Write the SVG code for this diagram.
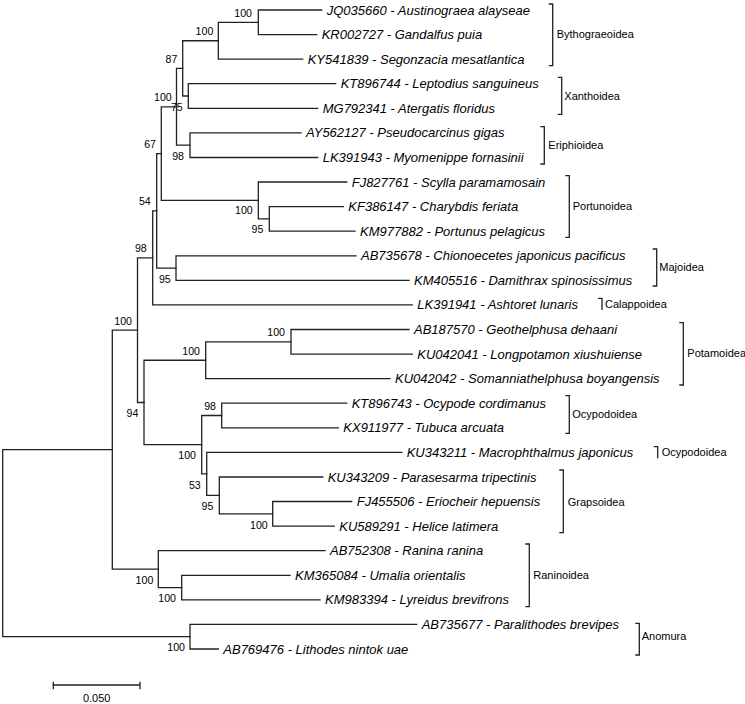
<svg xmlns="http://www.w3.org/2000/svg" width="745" height="704" viewBox="0 0 745 704">
<style>
.br{fill:none;stroke:#222;stroke-width:1.3;stroke-linecap:square}
.tx{font-family:"Liberation Sans",Arial,sans-serif;font-size:13px;font-style:italic;fill:#000}
.bs{font-family:"Liberation Sans",Arial,sans-serif;font-size:10.6px;fill:#000;text-anchor:end}
.cl{font-family:"Liberation Sans",Arial,sans-serif;font-size:11px;fill:#000}
.bk{fill:none;stroke:#222;stroke-width:1.3}
</style>
<rect width="745" height="704" fill="#fff"/>
<g id="connectors">
<path class="br" d="M321.7,10 H258.3 V34.6 H316.7"/>
<path class="br" d="M258.3,22.3 H218.3 V59.2 H302.7"/>
<path class="br" d="M335.7,83.7 H188.3 V108.3 H317.7"/>
<path class="br" d="M218.3,40.75 H182.7 V96 H188.3"/>
<path class="br" d="M301,132.9 H190 V157.5 H317.7"/>
<path class="br" d="M182.7,68.4 H176.5 V145.2 H190"/>
<path class="br" d="M343.3,206.6 H269.3 V231.2 H355"/>
<path class="br" d="M346.7,182 H258.3 V218.9 H269.3"/>
<path class="br" d="M176.5,106.8 H161.3 V200.45 H258.3"/>
<path class="br" d="M356,255.8 H176 V280.3 H409"/>
<path class="br" d="M161.3,153.6 H156.7 V268.05 H176"/>
<path class="br" d="M156.7,210.8 H152.7 V304.9 H412.3"/>
<path class="br" d="M409,329.5 H291 V354.1 H412.3"/>
<path class="br" d="M291,341.8 H205.7 V378.7 H390"/>
<path class="br" d="M346.7,403.2 H221.7 V427.8 H338.3"/>
<path class="br" d="M351.7,501.5 H272.7 V526.1 H334.3"/>
<path class="br" d="M322.7,477 H219.3 V513.8 H272.7"/>
<path class="br" d="M401.7,452.4 H206.7 V495.4 H219.3"/>
<path class="br" d="M221.7,415.5 H201.7 V473.9 H206.7"/>
<path class="br" d="M205.7,360.25 H144 V444.7 H201.7"/>
<path class="br" d="M152.7,257.9 H137.5 V402.5 H144"/>
<path class="br" d="M290,575.3 H181.7 V599.8 H320"/>
<path class="br" d="M325,550.7 H158.3 V587.55 H181.7"/>
<path class="br" d="M137.5,330.2 H112.3 V569.1 H158.3"/>
<path class="br" d="M416.7,624.4 H190 V649 H218.3"/>
<path class="br" d="M112.3,449.65 H2.7 V636.7 H190"/>
</g>
<g id="taxa">
<text class="tx" x="326.7" y="14.5">JQ035660 - Austinograea alayseae</text>
<text class="tx" x="321.7" y="39.1">KR002727 - Gandalfus puia</text>
<text class="tx" x="307.7" y="63.7">KY541839 - Segonzacia mesatlantica</text>
<text class="tx" x="340.7" y="88.2">KT896744 - Leptodius sanguineus</text>
<text class="tx" x="322.7" y="112.8">MG792341 - Atergatis floridus</text>
<text class="tx" x="306" y="137.4">AY562127 - Pseudocarcinus gigas</text>
<text class="tx" x="322.7" y="162">LK391943 - Myomenippe fornasinii</text>
<text class="tx" x="351.7" y="186.5">FJ827761 - Scylla paramamosain</text>
<text class="tx" x="348.3" y="211.1">KF386147 - Charybdis feriata</text>
<text class="tx" x="360" y="235.7">KM977882 - Portunus pelagicus</text>
<text class="tx" x="361" y="260.3">AB735678 - Chionoecetes japonicus pacificus</text>
<text class="tx" x="414" y="284.8">KM405516 - Damithrax spinosissimus</text>
<text class="tx" x="417.3" y="309.4">LK391941 - Ashtoret lunaris</text>
<text class="tx" x="414" y="334">AB187570 - Geothelphusa dehaani</text>
<text class="tx" x="417.3" y="358.6">KU042041 - Longpotamon xiushuiense</text>
<text class="tx" x="395" y="383.2">KU042042 - Somanniathelphusa boyangensis</text>
<text class="tx" x="351.7" y="407.7">KT896743 - Ocypode cordimanus</text>
<text class="tx" x="343.3" y="432.3">KX911977 - Tubuca arcuata</text>
<text class="tx" x="406.7" y="456.9">KU343211 - Macrophthalmus japonicus</text>
<text class="tx" x="327.7" y="481.5">KU343209 - Parasesarma tripectinis</text>
<text class="tx" x="356.7" y="506">FJ455506 - Eriocheir hepuensis</text>
<text class="tx" x="339.3" y="530.6">KU589291 - Helice latimera</text>
<text class="tx" x="330" y="555.2">AB752308 - Ranina ranina</text>
<text class="tx" x="295" y="579.8">KM365084 - Umalia orientalis</text>
<text class="tx" x="325" y="604.3">KM983394 - Lyreidus brevifrons</text>
<text class="tx" x="421.7" y="628.9">AB735677 - Paralithodes brevipes</text>
<text class="tx" x="223.3" y="653.5">AB769476 - Lithodes nintok uae</text>
</g>
<g id="bootstrap">
<text class="bs" x="252" y="16.7">100</text>
<text class="bs" x="213.3" y="35">100</text>
<text class="bs" x="177.3" y="63">87</text>
<text class="bs" x="171.7" y="101">100</text>
<text class="bs" x="182.7" y="111">75</text>
<text class="bs" x="184" y="159.7">98</text>
<text class="bs" x="156" y="148">67</text>
<text class="bs" x="252.7" y="214.4">100</text>
<text class="bs" x="263.3" y="233">95</text>
<text class="bs" x="150.7" y="205.4">54</text>
<text class="bs" x="170.7" y="282.7">95</text>
<text class="bs" x="146.7" y="252">98</text>
<text class="bs" x="132" y="324.7">100</text>
<text class="bs" x="285" y="335.7">100</text>
<text class="bs" x="200" y="354.7">100</text>
<text class="bs" x="138.3" y="416.7">94</text>
<text class="bs" x="216" y="410.2">98</text>
<text class="bs" x="196" y="459.2">100</text>
<text class="bs" x="200.7" y="488.7">53</text>
<text class="bs" x="213.3" y="510.4">95</text>
<text class="bs" x="267.7" y="528.7">100</text>
<text class="bs" x="153.3" y="583.7">100</text>
<text class="bs" x="176" y="601.7">100</text>
<text class="bs" x="185" y="650.7">100</text>
</g>
<g id="clade-Bythograeoidea"><path class="bk" d="M548.7,4 H552.7 V65.7 H548.7"/><text class="cl" x="556.7" y="37.9">Bythograeoidea</text></g>
<g id="clade-Xanthoidea"><path class="bk" d="M557.7,77.3 H561.7 V114.3 H557.7"/><text class="cl" x="564.3" y="99.6">Xanthoidea</text></g>
<g id="clade-Eriphioidea"><path class="bk" d="M540.3,126.7 H544.3 V164 H540.3"/><text class="cl" x="548.3" y="148.9">Eriphioidea</text></g>
<g id="clade-Portunoidea"><path class="bk" d="M565.3,175.7 H569.3 V237.3 H565.3"/><text class="cl" x="572.7" y="209.6">Portunoidea</text></g>
<g id="clade-Majoidea"><path class="bk" d="M652.7,249 H656.7 V286 H652.7"/><text class="cl" x="659.3" y="271.2">Majoidea</text></g>
<g id="clade-Calappoidea"><path class="bk" d="M598,298.3 H602 V310"/><text class="cl" x="605" y="307.9">Calappoidea</text></g>
<g id="clade-Potamoidea"><path class="bk" d="M679.3,322.7 H683.3 V385 H679.3"/><text class="cl" x="687.3" y="357.2">Potamoidea</text></g>
<g id="clade-Ocypodoidea-1"><path class="bk" d="M565.3,395.7 H569.3 V433.3 H565.3"/><text class="cl" x="572.3" y="418.2">Ocypodoidea</text></g>
<g id="clade-Ocypodoidea-2"><path class="bk" d="M653.7,446.7 H657.7 V458.3"/><text class="cl" x="661.7" y="455.6">Ocypodoidea</text></g>
<g id="clade-Grapsoidea"><path class="bk" d="M559.3,470 H563.3 V532.7 H559.3"/><text class="cl" x="567.7" y="505.6">Grapsoidea</text></g>
<g id="clade-Raninoidea"><path class="bk" d="M525.3,544 H529.3 V606.7 H525.3"/><text class="cl" x="533.3" y="578.9">Raninoidea</text></g>
<g id="clade-Anomura"><path class="bk" d="M635.3,623.3 H639.3 V655 H635.3"/><text class="cl" x="641.7" y="639.9">Anomura</text></g>
<g id="scale-bar">
<path class="bk" d="M53.3,685 H140 M53.3,681.7 V689.3 M140,681.7 V689.3"/>
<text class="cl" x="96.7" y="702" text-anchor="middle">0.050</text>
</g>
</svg>
